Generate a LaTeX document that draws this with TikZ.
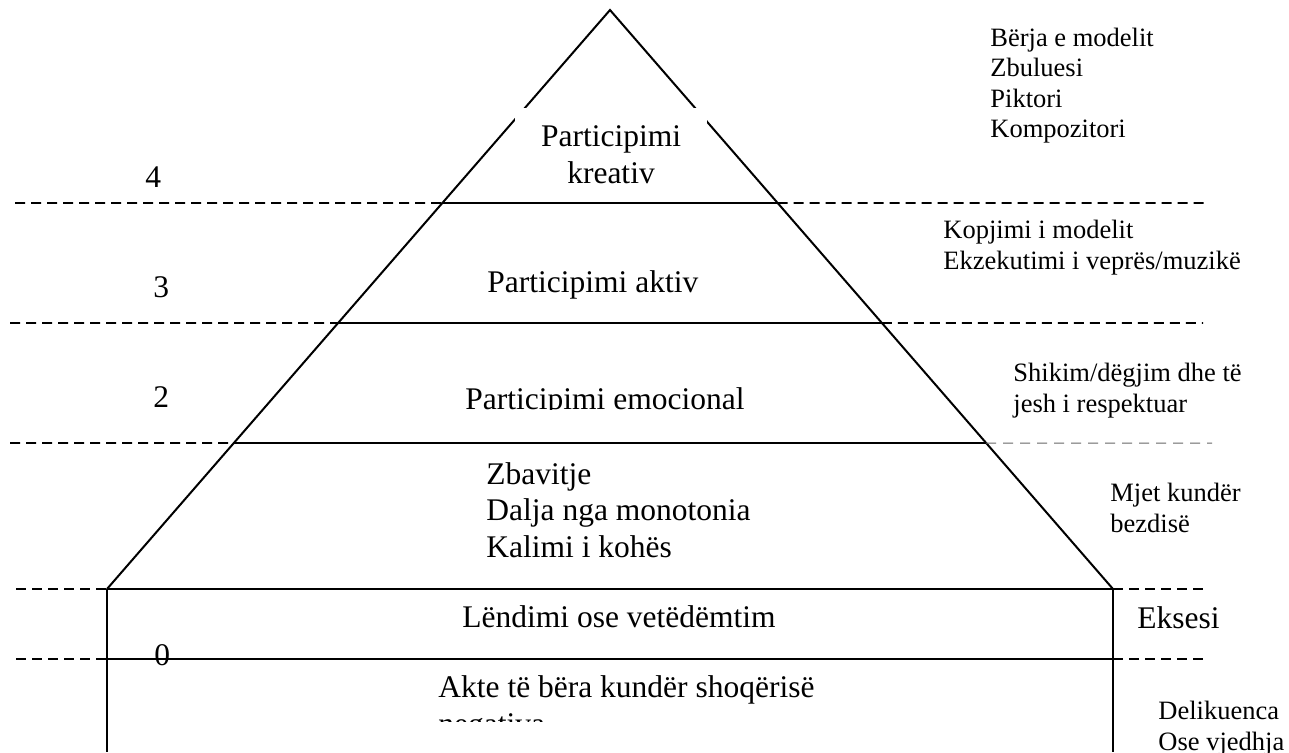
\documentclass[tikz,border=0pt]{standalone}
\usepackage{fontspec}
\setmainfont{Liberation Serif}
\usetikzlibrary{calc}
\begin{document}
\begin{tikzpicture}[x=0.5pt,y=-0.5pt,
  pyr/.style={line width=1pt},
  lvl/.style={line width=0.9pt, dash pattern=on 5pt off 3pt},
  lvlthin/.style={line width=0.5pt, black!60, dash pattern=on 5pt off 3.5pt},
  big/.style={font=\fontsize{15.75}{18.25}\selectfont, inner sep=0pt, align=left},
  small/.style={font=\fontsize{13.25}{15.25}\selectfont, inner sep=0pt, align=left},
]
\useasboundingbox (0,0) rectangle (1289,752);
% pyramid
\coordinate (apex) at (610,10);
\coordinate (bl) at (107,589);
\coordinate (br) at (1113,589);
\coordinate (bbl) at (107,752);
\coordinate (bbr) at (1113,752);
\draw[pyr] (bl) -- (apex) -- (br);
\draw[pyr] (bl) -- (bbl);
\draw[pyr] (br) -- (bbr);
% white box behind top label
\fill[white] (515,108) rectangle (707,200);
\node[big, anchor=base, align=center] (kreativ) at (611,183) {Participimi\\kreativ};
% level lines
\coordinate (l4) at ($(apex)!0.33333!(bl)$);
\coordinate (r4) at ($(apex)!0.33333!(br)$);
\coordinate (l4o) at (15,203);
\coordinate (r4o) at (1209,203);
\draw[lvl] (l4o) -- (l4);
\draw[pyr] (l4) -- (r4);
\draw[lvl] (r4) -- (r4o);
\coordinate (l3) at ($(apex)!0.54059!(bl)$);
\coordinate (r3) at ($(apex)!0.54059!(br)$);
\coordinate (l3o) at (10,323);
\coordinate (r3o) at (1203,323);
\draw[lvl] (l3o) -- (l3);
\draw[pyr] (l3) -- (r3);
\draw[lvl] (r3) -- (r3o);
\coordinate (l2) at ($(apex)!0.74784!(bl)$);
\coordinate (r2) at ($(apex)!0.74784!(br)$);
\coordinate (l2o) at (10,443);
\coordinate (r2o) at (1212,443);
\draw[lvl] (l2o) -- (l2);
\draw[pyr] (l2) -- (r2);
\draw[lvlthin] (r2) -- (r2o);
\coordinate (l1o) at (16,589);
\coordinate (r1o) at (1205,589);
\draw[lvl] (l1o) -- (bl);
\draw[pyr] (bl) -- (br);
\draw[lvl] (br) -- (r1o);
\coordinate (l0) at (107,659);
\coordinate (r0) at (1113,659);
\coordinate (l0o) at (16,659);
\coordinate (r0o) at (1205,659);
\draw[lvl] (l0o) -- (l0);
\draw[pyr] (l0) -- (r0);
\draw[lvl] (r0) -- (r0o);
% level numbers
\node[big, anchor=base west] (n4) at (145,187) {4};
\node[big, anchor=base west] (n3) at (153,297) {3};
\node[big, anchor=base west] (n2) at (153,407) {2};
\node[big, anchor=base west] (n0) at (154,665) {0};
% pyramid labels
\node[big, anchor=base west] (aktiv) at (487,292) {Participimi aktiv};
\begin{scope}
  \clip (400,370) rectangle (800,409);
  \node[big, anchor=base west] (emoc) at (465,409) {Participimi emocional};
\end{scope}
\node[big, anchor=base west] (zbav) at (486,557) {Zbavitje\\Dalja nga monotonia\\Kalimi i kohës};
\node[big, anchor=base west] (lend) at (462,627) {Lëndimi ose vetëdëmtim};
\begin{scope}
  \clip (400,670) rectangle (900,721);
  \node[big, anchor=base west] (akte) at (438,734) {Akte të bëra kundër shoqërisë\\negativa};
\end{scope}
% right labels
\node[small, anchor=base west] (r4t) at (990,137.5) {Bërja e modelit\\Zbuluesi\\Piktori\\Kompozitori};
\node[small, anchor=base west] (r3t) at (943,269) {Kopjimi i modelit\\Ekzekutimi i veprës/muzikë};
\node[small, anchor=base west] (r2t) at (1013,412) {Shikim/dëgjim dhe të\\jesh i respektuar};
\node[small, anchor=base west] (r1t) at (1110,532) {Mjet kundër\\bezdisë};
\node[big, anchor=base west] (eks) at (1137,628) {Eksesi};
\node[small, anchor=base west] (del) at (1158,750) {Delikuenca\\Ose vjedhja};
\end{tikzpicture}
\end{document}
